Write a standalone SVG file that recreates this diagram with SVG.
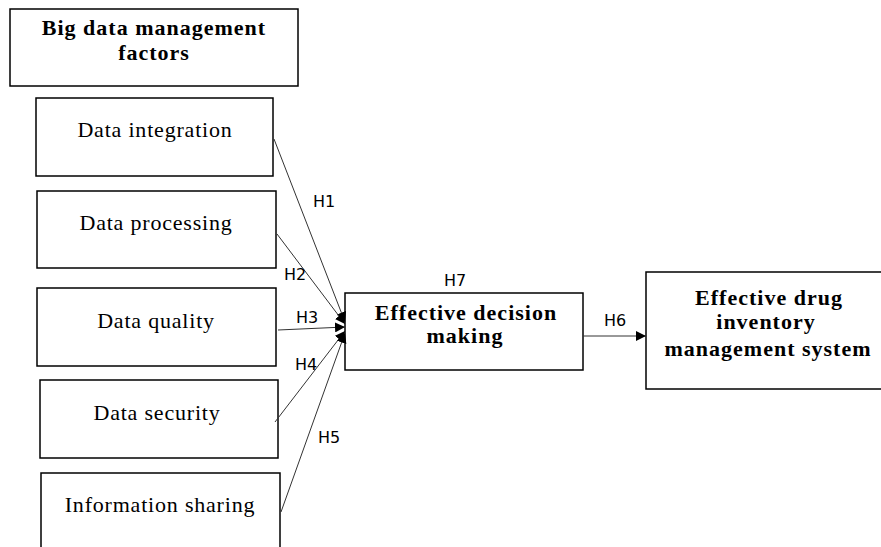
<svg xmlns="http://www.w3.org/2000/svg" width="881" height="547" viewBox="0 0 881 547">
<defs>
<marker id="ah" viewBox="0 0 10 10" refX="10" refY="5" markerWidth="10" markerHeight="10" markerUnits="userSpaceOnUse" orient="auto">
<path d="M0,0 L10,5 L0,10 z" fill="#000"/>
</marker>
</defs>
<style>
.box{fill:#fff;stroke:#000;stroke-width:1.5}
.t{font-family:"Liberation Serif","Times New Roman",serif;font-size:22px;letter-spacing:0.8px;fill:#000;text-anchor:middle}
.b{font-family:"Liberation Serif","Times New Roman",serif;font-size:22px;letter-spacing:1px;font-weight:bold;fill:#000;text-anchor:middle}
.lab{font-family:"DejaVu Sans",sans-serif;font-size:16px;fill:#000;text-anchor:middle}
.c{fill:none;stroke:#333;stroke-width:1;marker-end:url(#ah)}
</style>
<rect width="881" height="547" fill="#fff"/>
<g id="factors">
<rect class="box" x="10" y="9" width="288" height="77"/>
<text class="b" x="154" y="35">Big data management</text>
<text class="b" x="154" y="60">factors</text>
</g>
<g id="integration">
<rect class="box" x="36" y="98" width="237" height="78"/>
<text class="t" x="155" y="137">Data integration</text>
</g>
<g id="processing">
<rect class="box" x="37" y="191" width="239" height="77"/>
<text class="t" x="156" y="230">Data processing</text>
</g>
<g id="quality">
<rect class="box" x="37" y="288" width="239" height="78"/>
<text class="t" x="156" y="328">Data quality</text>
</g>
<g id="security">
<rect class="box" x="40" y="380" width="238" height="78"/>
<text class="t" x="157" y="420">Data security</text>
</g>
<g id="sharing">
<rect class="box" x="41" y="473" width="239" height="80"/>
<text class="t" x="160" y="512">Information sharing</text>
</g>
<g id="decision">
<rect class="box" x="345" y="293" width="238" height="77"/>
<text class="b" x="466" y="320">Effective decision</text>
<text class="b" x="465" y="343">making</text>
</g>
<g id="inventory">
<rect class="box" x="646" y="272" width="245" height="117"/>
<text class="b" x="769" y="305">Effective drug</text>
<text class="b" x="766" y="329">inventory</text>
<text class="b" x="768" y="356">management system</text>
</g>
<g id="connectors">
<line class="c" x1="274" y1="139" x2="345" y2="322"/>
<line class="c" x1="277" y1="234" x2="345" y2="324"/>
<line class="c" x1="278" y1="330" x2="345" y2="327"/>
<line class="c" x1="275" y1="422" x2="345" y2="331"/>
<line class="c" x1="281" y1="512" x2="345" y2="333"/>
<line class="c" x1="583" y1="336" x2="646" y2="336"/>
</g>
<g id="labels">
<text class="lab" x="324" y="207">H1</text>
<text class="lab" x="295" y="280">H2</text>
<text class="lab" x="307" y="323">H3</text>
<text class="lab" x="306" y="370">H4</text>
<text class="lab" x="329" y="443">H5</text>
<text class="lab" x="455" y="286">H7</text>
<text class="lab" x="615" y="326">H6</text>
</g>
</svg>
